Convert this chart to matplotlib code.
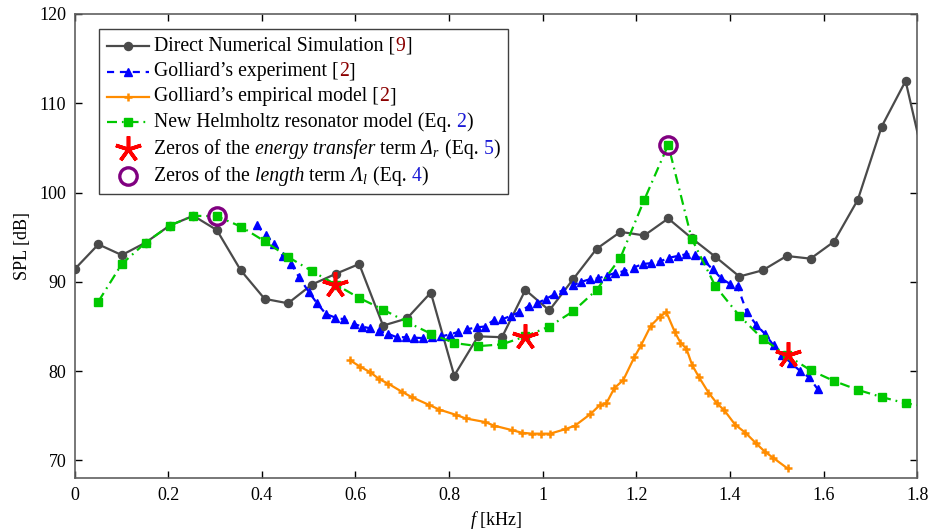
import matplotlib
matplotlib.use("Agg")
import matplotlib.pyplot as plt
from matplotlib.ticker import FuncFormatter
from matplotlib.offsetbox import AnchoredOffsetbox, HPacker, VPacker, TextArea, DrawingArea
from matplotlib.lines import Line2D

# ---------------- data ----------------
dns_f = [0.000, 0.051, 0.101, 0.152, 0.203, 0.254, 0.304, 0.355, 0.406, 0.456,
         0.507, 0.558, 0.608, 0.659, 0.710, 0.761, 0.811, 0.862, 0.913, 0.963,
         1.014, 1.065, 1.115, 1.166, 1.217, 1.268, 1.318, 1.369, 1.420, 1.470,
         1.521, 1.572, 1.622, 1.673, 1.724, 1.775, 1.825]
dns_spl = [91.4, 94.2, 93.0, 94.4, 96.3, 97.4, 95.8, 91.3, 88.1, 87.6,
           89.7, 90.9, 92.0, 85.1, 85.9, 88.8, 79.5, 83.9, 83.8, 89.1,
           86.8, 90.3, 93.7, 95.6, 95.2, 97.1, 94.9, 92.8, 90.6, 91.3,
           92.9, 92.6, 94.5, 99.2, 107.4, 112.5, 101.1]

exp_f = [0.389, 0.408, 0.427, 0.445, 0.463, 0.480, 0.500, 0.518, 0.537, 0.557,
         0.576, 0.596, 0.614, 0.631, 0.651, 0.669, 0.688, 0.707, 0.725, 0.745,
         0.764, 0.783, 0.801, 0.820, 0.839, 0.859, 0.876, 0.895, 0.913, 0.932,
         0.950, 0.970, 0.988, 1.007, 1.025, 1.044, 1.064, 1.082, 1.101, 1.119,
         1.137, 1.155, 1.174, 1.194, 1.214, 1.232, 1.251, 1.270, 1.288, 1.307,
         1.326, 1.344, 1.363, 1.381, 1.399, 1.416, 1.436, 1.456, 1.474, 1.493,
         1.511, 1.531, 1.550, 1.569, 1.587]
exp_spl = [96.4, 95.2, 94.2, 92.9, 92.0, 90.5, 88.9, 87.6, 86.4, 86.0,
           85.8, 85.3, 85.0, 84.8, 84.5, 84.2, 83.8, 83.8, 83.75, 83.7,
           83.8, 83.9, 84.1, 84.4, 84.7, 84.9, 85.0, 85.7, 85.8, 86.2,
           86.6, 87.3, 87.6, 88.1, 88.6, 89.1, 89.6, 90.0, 90.3, 90.4,
           90.7, 91.0, 91.2, 91.6, 92.0, 92.1, 92.3, 92.7, 92.9, 93.1,
           93.0, 92.4, 91.4, 90.4, 89.8, 89.5, 86.6, 85.2, 84.2, 82.9,
           81.8, 80.9, 80.0, 79.3, 78.0]

emp_f = [0.589, 0.610, 0.631, 0.651, 0.670, 0.699, 0.720, 0.758, 0.779, 0.815,
         0.836, 0.877, 0.896, 0.934, 0.956, 0.977, 0.997, 1.016, 1.048, 1.069,
         1.102, 1.122, 1.136, 1.153, 1.172, 1.196, 1.210, 1.231, 1.250, 1.264,
         1.282, 1.294, 1.307, 1.319, 1.334, 1.354, 1.372, 1.388, 1.411, 1.433,
         1.456, 1.474, 1.492, 1.523]
emp_spl = [81.2, 80.5, 79.9, 79.1, 78.6, 77.7, 77.1, 76.2, 75.7, 75.1,
           74.7, 74.3, 73.9, 73.4, 73.1, 73.0, 73.0, 73.0, 73.5, 73.9,
           75.2, 76.2, 76.4, 78.1, 79.0, 81.6, 82.9, 85.1, 86.1, 86.6,
           84.4, 83.2, 82.5, 80.7, 79.3, 77.6, 76.4, 75.6, 74.0, 73.1,
           71.9, 71.0, 70.3, 69.1]

hr_f = [0.051, 0.101, 0.152, 0.203, 0.254, 0.304, 0.355, 0.406, 0.456,
        0.507, 0.558, 0.608, 0.659, 0.710, 0.761, 0.811, 0.862, 0.913, 0.963,
        1.014, 1.065, 1.115, 1.166, 1.217, 1.268, 1.318, 1.369, 1.420, 1.470,
        1.521, 1.572, 1.622, 1.673, 1.724, 1.775, 1.825]
hr_spl = [87.8, 92.0, 94.4, 96.3, 97.4, 97.35, 96.2, 94.55, 92.8,
          91.2, 89.7, 88.2, 86.9, 85.5, 84.2, 83.15, 82.8, 83.0, 83.9,
          85.0, 86.7, 89.1, 92.7, 99.2, 105.35, 94.85, 89.5, 86.2, 83.6,
          81.8, 80.1, 78.9, 77.9, 77.1, 76.4, 76.0]

zeros_energy_f = [0.557, 0.963, 1.523]
zeros_energy_spl = [89.7, 83.8, 81.8]
zeros_length_f = [0.304, 1.268]
zeros_length_spl = [97.35, 105.35]

x_ticks = [0, 0.2, 0.4, 0.6, 0.8, 1.0, 1.2, 1.4, 1.6, 1.8]
y_ticks = [70, 80, 90, 100, 110, 120]

# ---------------- style ----------------
plt.rcParams['font.family'] = ['Liberation Serif', 'DejaVu Serif']
plt.rcParams['mathtext.fontset'] = 'custom'
plt.rcParams['mathtext.rm'] = 'Liberation Serif:italic'
plt.rcParams['mathtext.it'] = 'Liberation Serif:italic'
plt.rcParams['mathtext.bf'] = 'Liberation Serif:bold'
FS_TICK = 13
FS_LEG = 14.2

C_DNS = '#4a4a4a'
C_EXP = '#0000ff'
C_EMP = '#ff8c00'
C_HR = '#00c800'
C_STAR = '#ff0000'
C_CIRC = '#800080'
C_CITE = '#8b0000'
C_EQ = '#1a1ad6'

star_marker = (5, 2, 0)

fig = plt.figure(figsize=(9.31, 5.32), dpi=100)
ax = fig.add_axes([74.5 / 931, 1 - 478.3 / 532, (917.3 - 74.5) / 931, (478.3 - 14) / 532])

dns_kw = dict(color=C_DNS, lw=1.6, marker='o', ms=5.8)
exp_kw = dict(color=C_EXP, lw=1.6, ls=(0, (3.2, 2.6)), marker='^', ms=5.8)
emp_kw = dict(color=C_EMP, lw=1.6, marker='+', ms=5.5, mew=1.8)
hr_kw = dict(color=C_HR, lw=1.6, ls=(0, (4.5, 2.2, 0.8, 2.2)), marker='s', ms=5.2)
star_kw = dict(color=C_STAR, ls='none', marker=star_marker, ms=19, mew=2.6)
circ_kw = dict(color=C_CIRC, ls='none', marker='o', ms=12.5, mew=2.4, mfc='none')

ax.plot(dns_f, dns_spl, zorder=3, **dns_kw)
ax.plot(exp_f, exp_spl, zorder=4, **exp_kw)
ax.plot(emp_f, emp_spl, zorder=4, **emp_kw)
ax.plot(hr_f, hr_spl, zorder=5, **hr_kw)
ax.plot(zeros_energy_f, zeros_energy_spl, zorder=6, **star_kw)
ax.plot(zeros_length_f, zeros_length_spl, zorder=6, **circ_kw)

ax.set_xlim(0, 1.8)
ax.set_ylim(68, 120)
ax.set_xticks(x_ticks)
ax.set_yticks(y_ticks)
ax.xaxis.set_major_formatter(FuncFormatter(lambda v, p: '%g' % v))
ax.tick_params(direction='in', top=True, right=True, length=5, width=1,
               labelsize=FS_TICK, color='black', pad=6)
for s in ax.spines.values():
    s.set_color('#606060')
    s.set_linewidth(1.2)
ax.set_xlabel(r'$f$ [kHz]', fontsize=FS_TICK, labelpad=4)
ax.set_ylabel('SPL [dB]', fontsize=FS_TICK, labelpad=6)

# ---------------- custom legend with coloured references ----------------
def handle(line_kw, marker_kw):
    da = DrawingArea(30, 10, 0, 0)
    if line_kw is not None:
        da.add_artist(Line2D([0, 30], [5, 5], **line_kw))
    da.add_artist(Line2D([15], [5], ls='none', **marker_kw))
    return da

def txt(s, color='black', style='normal'):
    return TextArea(s, textprops=dict(color=color, fontsize=FS_LEG, fontstyle=style))

rows_spec = [
    (handle(dict(color=C_DNS, lw=1.6), dict(color=C_DNS, marker='o', ms=5.8)),
     [txt('Direct Numerical Simulation ['), txt('9', C_CITE), txt(']')]),
    (handle(dict(color=C_EXP, lw=1.6, ls=(0, (3.2, 2.6))), dict(color=C_EXP, marker='^', ms=5.8)),
     [txt('Golliard\u2019s experiment ['), txt('2', C_CITE), txt(']')]),
    (handle(dict(color=C_EMP, lw=1.6), dict(color=C_EMP, marker='+', ms=5.5, mew=1.8)),
     [txt('Golliard\u2019s empirical model ['), txt('2', C_CITE), txt(']')]),
    (handle(dict(color=C_HR, lw=1.6, ls=(0, (4.5, 2.2, 0.8, 2.2))), dict(color=C_HR, marker='s', ms=5.2)),
     [txt('New Helmholtz resonator model (Eq.'), txt(' 2', C_EQ), txt(')')]),
    (handle(None, dict(color=C_STAR, marker=star_marker, ms=19, mew=2.6)),
     [txt('Zeros of the'), txt(' energy transfer', style='italic'), txt(' term'),
      txt(r'$\ \Delta_r$'), txt(' (Eq.'), txt(' 5', C_EQ), txt(')')]),
    (handle(None, dict(color=C_CIRC, marker='o', ms=12.5, mew=2.4, mfc='none')),
     [txt('Zeros of the'), txt(' length', style='italic'), txt(' term'),
      txt(r'$\ \Lambda_l$'), txt(' (Eq.'), txt(' 4', C_EQ), txt(')')]),
]

rows = []
for h, pieces in rows_spec:
    line = HPacker(children=pieces, sep=0, pad=0, align='baseline')
    rows.append(HPacker(children=[h, line], sep=4, pad=0, align='center'))
box = VPacker(children=rows, sep=4.4, pad=0, align='left')
anch = AnchoredOffsetbox(loc='upper left', child=box, pad=0.55, borderpad=0,
                         frameon=True, bbox_to_anchor=(0.0294, 0.967),
                         bbox_transform=ax.transAxes)
anch.patch.set_boxstyle('square', pad=0)
anch.patch.set_edgecolor('#404040')
anch.patch.set_linewidth(1.0)
anch.set_zorder(10)
ax.add_artist(anch)

fig.savefig('out.png', dpi=100)
